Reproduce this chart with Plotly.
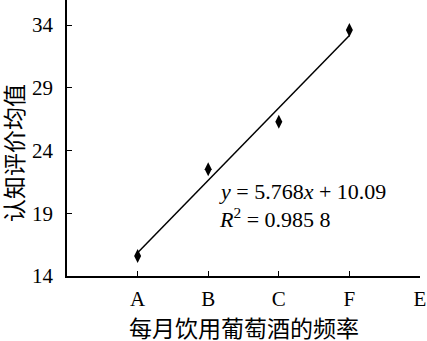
import plotly.graph_objects as go

categories = ["A", "B", "C", "F", "E"]
point_cats = ["A", "B", "C", "F"]
values = [15.6, 22.5, 26.3, 33.6]
slope = 5.768
intercept = 10.09
y_ticks = [14, 19, 24, 29, 34]

pos = {c: i + 1 for i, c in enumerate(categories)}
px = [pos[c] for c in point_cats]
line_x = [px[0], px[-1]]
line_y = [slope * x + intercept for x in line_x]

SERIF = "Liberation Serif"
CJK = "Noto Sans CJK SC"

fig = go.Figure()
fig.add_trace(go.Scatter(x=line_x, y=line_y, mode="lines",
                         line=dict(color="black", width=1.5), showlegend=False))
fig.add_trace(go.Scatter(x=px, y=values, mode="markers",
                         marker=dict(symbol="diamond-tall", size=10, color="black"),
                         showlegend=False))

fig.update_layout(
    width=427, height=341,
    margin=dict(l=67, r=7, t=0, b=65),
    paper_bgcolor="white", plot_bgcolor="white",
    font=dict(family=SERIF, size=21, color="black"),
    xaxis=dict(range=[0, 5], tickvals=list(range(1, len(categories) + 1)),
               ticktext=categories, ticks="inside", ticklen=5, tickwidth=1.2,
               tickcolor="black", showline=True, linecolor="black", linewidth=1.5,
               showgrid=False, zeroline=False, ticklabelstandoff=3,
               tickfont=dict(family=SERIF, size=21)),
    yaxis=dict(range=[14, 36], tickvals=y_ticks, ticks="inside", ticklen=5,
               tickwidth=1.2, tickcolor="black", showline=True, linecolor="black",
               linewidth=1.5, showgrid=False, zeroline=False, ticklabelstandoff=8,
               tickfont=dict(family=SERIF, size=21)),
    annotations=[
        dict(text="认知评价均值", xref="paper", yref="paper", x=0, y=0.446,
             xshift=-54, textangle=-90, showarrow=False, xanchor="center",
             yanchor="middle", font=dict(family=CJK, size=23)),
        dict(text="每月饮用葡萄酒的频率", xref="paper", yref="paper", x=0.5, y=0,
             yshift=-51, showarrow=False, xanchor="center", yanchor="middle",
             font=dict(family=CJK, size=23)),
        dict(text=f"<i>y</i> = {slope}<i>x</i> + {intercept}",
             xref="x", yref="y", x=2.12, y=20.75, showarrow=False,
             xanchor="left", yanchor="middle", font=dict(family=SERIF, size=22)),
        dict(text="<i>R</i><sup>2</sup> = 0.985 8",
             xref="x", yref="y", x=2.12, y=18.65, showarrow=False,
             xanchor="left", yanchor="middle", font=dict(family=SERIF, size=22)),
    ],
)

fig.write_html("out.html")
